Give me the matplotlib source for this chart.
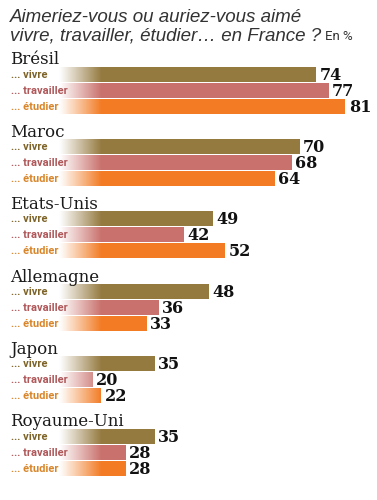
import matplotlib.pyplot as plt
import numpy as np

# Données (en %)
pays = ["Brésil", "Maroc", "Etats-Unis", "Allemagne", "Japon", "Royaume-Uni"]
series = ["... vivre", "... travailler", "... étudier"]
vivre = [74, 70, 49, 48, 35, 35]
travailler = [77, 68, 42, 36, 20, 28]
etudier = [81, 64, 52, 33, 22, 28]

bar_colors = ["#957a40", "#c9716c", "#f27b24"]
label_colors = ["#7d6327", "#b0585a", "#d9862a"]
cond = ['Liberation Sans Narrow', 'DejaVu Sans Condensed', 'Roboto', 'DejaVu Sans']

W, H = 377, 500
x0_px, px_per_unit = 10, 4.14

fig = plt.figure(figsize=(W / 100, H / 100), dpi=100)
ax = fig.add_axes([0, 0, 1, 1])
ax.axis('off')

group_top = 74      # centre de la première barre (px)
group_step = 72.4
bar_step = 16
bar_h = 15

# Dégradé blanc pour le début des barres
grad_x = np.linspace(0, 22, 200)
alpha = np.clip((22 - grad_x) / 10, 0, 1)
grad = np.ones((1, len(grad_x), 4))
grad[0, :, 3] = alpha

for g, nom in enumerate(pays):
    vals = [vivre[g], travailler[g], etudier[g]]
    y_first = group_top + g * group_step
    ax.text(0, y_first - 14, nom, fontsize=12, family='DejaVu Serif',
            color='#1a1a1a', ha='left', va='center')
    for k, v in enumerate(vals):
        y = y_first + k * bar_step
        ax.barh(y, v, height=bar_h, left=0, color=bar_colors[k], zorder=1)
        ax.text(v + 0.8, y + 1, str(v), fontsize=11.5, family='DejaVu Serif',
                fontweight='bold', color='#111111', ha='left', va='center')
        ax.text(0.3, y + 0.5, series[k], fontsize=8, family=cond,
                fontweight='bold', color=label_colors[k],
                ha='left', va='center', zorder=4)
    ax.imshow(grad, extent=(0, 22, y_first + 2.5 * bar_step, y_first - 0.5 * bar_step),
              aspect='auto', zorder=2, interpolation='bilinear')

ax.set_xlim(-x0_px / px_per_unit, (W - x0_px) / px_per_unit)
ax.set_ylim(H, 0)

# Titre
fig.text(x0_px / W, 1 - 18 / H, "Aimeriez-vous ou auriez-vous aimé",
         fontsize=13.5, family='Liberation Sans', style='italic',
         color='#333333', ha='left', va='center')
t2 = fig.text(x0_px / W, 1 - 36 / H, "vivre, travailler, étudier… en France ?",
              fontsize=13.5, family='Liberation Sans', style='italic',
              color='#333333', ha='left', va='center')
fig.canvas.draw()
bb = t2.get_window_extent()
fig.text((bb.x1 + 4) / W, 1 - 37 / H, "En %", fontsize=9.5, family=cond,
         color='#333333', ha='left', va='center')

plt.savefig('out.png', dpi=100)
